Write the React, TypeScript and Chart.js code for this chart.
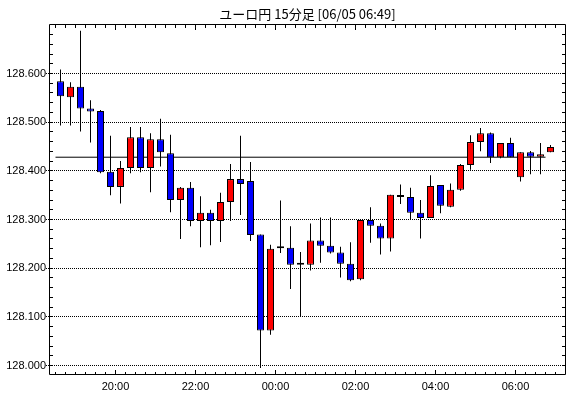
import React, { useEffect, useRef } from 'react';
import { Chart, registerables } from 'chart.js';

Chart.register(...registerables);

// ---- data ----
const titleText = 'ユーロ円 15分足 [06/05 06:49]';
const firstCandleTime = '18:30';
const candleMinutes = 15;

const opens = [
  128.584, 128.551, 128.573, 128.528, 128.523, 128.398, 128.367, 128.406, 128.469, 128.406,
  128.465, 128.436, 128.340, 128.365, 128.297, 128.314, 128.297, 128.336, 128.383, 128.379,
  128.269, 128.072, 128.241, 128.242, 128.207, 128.207, 128.257, 128.246, 128.232, 128.209,
  128.177, 128.299, 128.287, 128.261, 128.346, 128.346, 128.314, 128.303, 128.371, 128.326,
  128.361, 128.412, 128.459, 128.477, 128.428, 128.457, 128.387, 128.438, 128.429, 128.438,
];
const highs = [
  128.608, 128.582, 128.688, 128.545, 128.525, 128.472, 128.420, 128.490, 128.490, 128.477,
  128.507, 128.474, 128.367, 128.377, 128.348, 128.320, 128.355, 128.414, 128.472, 128.418,
  128.269, 128.248, 128.339, 128.286, 128.233, 128.292, 128.304, 128.304, 128.244, 128.253,
  128.299, 128.325, 128.292, 128.351, 128.372, 128.365, 128.340, 128.391, 128.371, 128.374,
  128.414, 128.473, 128.488, 128.479, 128.457, 128.468, 128.438, 128.441, 128.457, 128.453,
];
const lows = [
  128.493, 128.493, 128.481, 128.458, 128.395, 128.350, 128.333, 128.395, 128.397, 128.356,
  128.409, 128.315, 128.260, 128.286, 128.243, 128.247, 128.254, 128.297, 128.309, 128.256,
  127.995, 128.063, 128.231, 128.157, 128.100, 128.195, 128.211, 128.230, 128.181, 128.173,
  128.175, 128.252, 128.228, 128.234, 128.332, 128.299, 128.261, 128.303, 128.313, 128.325,
  128.359, 128.402, 128.440, 128.416, 128.426, 128.428, 128.378, 128.393, 128.393, 128.438,
];
const closes = [
  128.553, 128.573, 128.528, 128.522, 128.397, 128.367, 128.406, 128.469, 128.406, 128.465,
  128.438, 128.340, 128.365, 128.297, 128.314, 128.297, 128.336, 128.383, 128.373, 128.268,
  128.072, 128.240, 128.241, 128.207, 128.207, 128.257, 128.246, 128.232, 128.209, 128.175,
  128.299, 128.287, 128.261, 128.351, 128.346, 128.314, 128.303, 128.369, 128.328, 128.361,
  128.412, 128.459, 128.477, 128.428, 128.457, 128.428, 128.438, 128.429, 128.434, 128.449,
];

const refLevel = 128.428;
const refFirstCandle = 0;
const refLastCandle = 48;

const yTickValues = [128.0, 128.1, 128.2, 128.3, 128.4, 128.5, 128.6];
const yMinorStep = 0.02;
const xTickLabels = ['20:00', '22:00', '00:00', '02:00', '04:00', '06:00'];

// ---- helpers ----
const toMin = (t: string) => {
  const [h, m] = t.split(':').map(Number);
  return h * 60 + m;
};
const startMin = toMin(firstCandleTime);
// position of a time boundary on the candle-index axis
const xTickPositions = xTickLabels.map((t) => {
  let m = toMin(t);
  if (m < startMin) m += 1440;
  return (m - startMin) / candleMinutes - 0.5;
});

const RED = '#FF0000';
const BLUE = '#0000FF';
const BLACK = '#000000';

export default function App() {
  const ref = useRef<HTMLCanvasElement>(null);

  useEffect(() => {
    const canvas = ref.current;
    if (!canvas) return;
    const idx = opens.map((_, i) => i);
    const bodyColors = idx.map((i) =>
      closes[i] > opens[i] ? RED : closes[i] < opens[i] ? BLUE : BLACK
    );

    const framePlugin = {
      id: 'frameTicks',
      afterDraw(chart: any) {
        const { ctx, chartArea: a, scales } = chart;
        const xs = scales.x;
        const ys = scales.y;
        const L = Math.floor(a.left) - 0.5;
        const R = Math.floor(a.right) + 0.5;
        const T = Math.floor(a.top) + 0.5;
        const B = Math.floor(a.bottom) - 0.5;
        ctx.save();
        ctx.strokeStyle = BLACK;
        ctx.lineWidth = 1;
        ctx.setLineDash([]);
        ctx.beginPath();
        ctx.rect(L, T, R - L, B - T);
        // x ticks at every candle boundary
        for (let k = 0; k <= opens.length; k++) {
          const v = k - 0.5;
          const p = xs.getPixelForValue(v);
          const px = Math.floor(p) + 0.5;
          if (px <= L || px >= R) continue;
          const major = xTickPositions.some((t) => Math.abs(t - v) < 1e-6);
          ctx.moveTo(px, B + 0.5);
          ctx.lineTo(px, B + 0.5 - (major ? 5 : 3));
          ctx.moveTo(px, T - 0.5);
          ctx.lineTo(px, T - 0.5 + (major ? 6 : 4));
        }
        // y minor ticks left / right
        const kStart = Math.ceil((ys.min - yTickValues[0]) / yMinorStep);
        const kEnd = Math.floor((ys.max - yTickValues[0]) / yMinorStep);
        for (let k = kStart; k <= kEnd; k++) {
          const v = yTickValues[0] + k * yMinorStep;
          const p = ys.getPixelForValue(v);
          const py = Math.floor(p) + 0.5;
          if (py <= T + 1 || py >= B - 1) continue;
          ctx.moveTo(L + 0.5, py);
          ctx.lineTo(L + 3.5, py);
          ctx.moveTo(R - 0.5, py);
          ctx.lineTo(R - 3.5, py);
        }
        ctx.stroke();
        ctx.restore();
      },
    };

    const tickFont = { family: '"Liberation Sans", Arial, sans-serif', size: 11 };

    const chart = new Chart(canvas, {
      type: 'bar',
      data: {
        datasets: [
          {
            type: 'line',
            data: [
              { x: refFirstCandle - 0.5, y: refLevel },
              { x: refLastCandle + 0.5, y: refLevel },
            ],
            borderColor: BLACK,
            borderWidth: 1,
            pointRadius: 0,
            fill: false,
            order: 3,
          } as any,
          {
            type: 'bar',
            data: idx.map((i) => ({ x: i, y: [lows[i], highs[i]] })),
            backgroundColor: BLACK,
            borderWidth: 0,
            barThickness: 1,
            grouped: false,
            inflateAmount: 0,
            order: 2,
          } as any,
          {
            type: 'bar',
            data: idx.map((i) => ({ x: i, y: [opens[i], closes[i]] })),
            backgroundColor: bodyColors,
            borderColor: BLACK,
            borderWidth: 1,
            borderSkipped: false,
            barThickness: 7,
            minBarLength: 2,
            grouped: false,
            inflateAmount: 0,
            order: 1,
          } as any,
        ],
      },
      options: {
        responsive: false,
        animation: false,
        events: [],
        layout: { padding: { left: 0, right: 5, top: 0, bottom: 0 } },
        plugins: {
          legend: { display: false },
          tooltip: { enabled: false },
          title: {
            display: true,
            text: titleText,
            position: 'top',
            align: 'center',
            fullSize: false,
            color: BLACK,
            font: {
              family: '"Noto Sans CJK JP", sans-serif',
              size: 13,
              weight: 'normal',
              lineHeight: 14 / 13,
            },
            padding: { top: 7, bottom: 3 },
          },
        },
        scales: {
          x: {
            type: 'linear',
            min: -1.05,
            max: 50.45,
            offset: false,
            grid: { display: false, drawTicks: false, offset: false },
            border: { display: false },
            ticks: {
              color: BLACK,
              font: tickFont,
              padding: 5,
              maxRotation: 0,
              autoSkip: false,
              callback: (v: any) => {
                const j = xTickPositions.findIndex((t) => Math.abs(t - Number(v)) < 1e-6);
                return j >= 0 ? xTickLabels[j] : '';
              },
            },
            afterBuildTicks: (s: any) => {
              s.ticks = xTickPositions.map((v) => ({ value: v }));
            },
            afterFit: (s: any) => {
              s.height = 23;
            },
          },
          y: {
            type: 'linear',
            min: 127.98048,
            max: 128.70171,
            beginAtZero: false,
            grid: {
              color: BLACK,
              lineWidth: 1,
              drawTicks: true,
              tickLength: 4,
              tickColor: BLACK,
              tickBorderDash: [1, 1],
            },
            border: { display: false, dash: [1, 1] },
            ticks: {
              color: BLACK,
              font: tickFont,
              padding: 0,
              callback: (v: any) => Number(v).toFixed(3),
            },
            afterBuildTicks: (s: any) => {
              s.ticks = yTickValues.map((v) => ({ value: v }));
            },
            afterFit: (s: any) => {
              s.width = 50;
            },
          },
        },
      } as any,
      plugins: [framePlugin],
    });

    return () => chart.destroy();
  }, []);

  return (
    <div style={{ width: 570, height: 398, background: '#fff' }}>
      <style>{'body{margin:0;background:#fff}'}</style>
      <canvas ref={ref} width={570} height={398} style={{ display: 'block' }} />
    </div>
  );
}
